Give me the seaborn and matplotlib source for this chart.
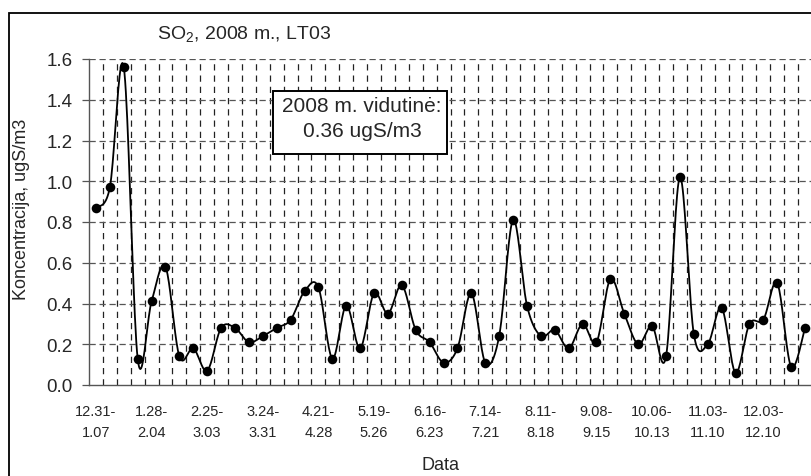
import numpy as np
import pandas as pd
import matplotlib
matplotlib.use("Agg")
import matplotlib.pyplot as plt
import seaborn as sns
from matplotlib.patches import Rectangle

# ---- data ----
tick_labels = ["12.31-\n1.07", "1.28-\n2.04", "2.25-\n3.03", "3.24-\n3.31", "4.21-\n4.28",
               "5.19-\n5.26", "6.16-\n6.23", "7.14-\n7.21", "8.11-\n8.18", "9.08-\n9.15",
               "10.06-\n10.13", "11.03-\n11.10", "12.03-\n12.10"]
so2 = [0.87, 0.97, 1.56, 0.13, 0.41, 0.58, 0.14, 0.18, 0.07, 0.28,
       0.28, 0.21, 0.24, 0.28, 0.32, 0.46, 0.48, 0.13, 0.39, 0.18,
       0.45, 0.35, 0.49, 0.27, 0.21, 0.11, 0.18, 0.45, 0.11, 0.24,
       0.81, 0.39, 0.24, 0.27, 0.18, 0.30, 0.21, 0.52, 0.35, 0.20,
       0.29, 0.14, 1.02, 0.25, 0.20, 0.38, 0.06, 0.30, 0.32, 0.50,
       0.09, 0.28]
title = "SO$_2$, 2008 m., LT03"
note = "2008 m. vidutinė:\n0.36 ugS/m3"

df = pd.DataFrame({"week": np.arange(len(so2)), "conc": so2})

sns.set_theme(style="white")
plt.rcParams["font.family"] = ["Liberation Sans", "DejaVu Sans"]
plt.rcParams["mathtext.fontset"] = "custom"
plt.rcParams["mathtext.rm"] = "Liberation Sans"

W, H = 811, 477
fig = plt.figure(figsize=(W / 100, H / 100), dpi=100)
fig.patch.set_facecolor("white")
ax = fig.add_axes([89 / W, (H - 386) / H, (812 - 89) / W, (386 - 60) / H])
ax.set_facecolor("white")


def smooth(xv, yv, n=20):
    # Bezier smoothing like a spreadsheet "smoothed line" (drawing only)
    xv = np.asarray(xv, float)
    yv = np.asarray(yv, float)
    px, py = [], []
    m = len(xv)
    for i in range(m - 1):
        i0, i3 = max(i - 1, 0), min(i + 2, m - 1)
        p0 = np.array([xv[i], yv[i]])
        p3 = np.array([xv[i + 1], yv[i + 1]])
        c1 = p0 + (np.array([xv[i + 1], yv[i + 1]]) - np.array([xv[i0], yv[i0]])) / 6
        c2 = p3 - (np.array([xv[i3], yv[i3]]) - np.array([xv[i], yv[i]])) / 6
        t = np.linspace(0, 1, n, endpoint=(i == m - 2))[:, None]
        pts = ((1 - t) ** 3) * p0 + 3 * ((1 - t) ** 2) * t * c1 + 3 * (1 - t) * t ** 2 * c2 + t ** 3 * p3
        px.extend(pts[:, 0])
        py.extend(pts[:, 1])
    return np.array(px), np.array(py)


sx, sy = smooth(df["week"], df["conc"])
ax.plot(sx, sy, color="black", lw=1.3, zorder=3)
sns.scatterplot(data=df, x="week", y="conc", ax=ax, color="black", s=48,
                edgecolor="black", linewidth=0, zorder=4, legend=False)

n = len(so2)
ax.set_xlim(-0.5, n - 0.5)
ax.set_ylim(0, 1.6)

# grid
for k in range(1, n):
    ax.axvline(k - 0.5, color="#222222", lw=0.9, dashes=(5, 4), zorder=1)
for v in np.arange(0.2, 1.61, 0.2):
    ax.axhline(v, color="#555555", lw=0.9, dashes=(5, 3), zorder=1)

yt = np.round(np.arange(0, 1.61, 0.2), 1)
ax.set_yticks(yt)
ax.set_yticklabels([f"{v:.1f}" for v in yt], fontsize=13.5)
ax.set_xticks(np.arange(0, n, 4))
ax.set_xticklabels(tick_labels, fontsize=10.5, linespacing=1.65)
ax.set_xticks(np.arange(-0.5, n, 1), minor=True)
ax.tick_params(axis="x", which="major", length=0, pad=13.5)
ax.tick_params(axis="x", which="minor", direction="inout", length=7, width=0.9, color="#555555")
ax.tick_params(axis="y", which="major", direction="out", length=5, width=0.9, color="#555555",
               pad=7, left=True)

for s in ["top", "right"]:
    ax.spines[s].set_visible(False)
for s in ["left", "bottom"]:
    ax.spines[s].set_color("#555555")
    ax.spines[s].set_linewidth(1.0)

ax.set_xlabel("")
ax.set_ylabel("")
fig.text(22 / W, 1 - 209 / H, "Koncentracija, ugS/m3", rotation=90, ha="center", va="center",
         fontsize=13)
fig.text(440 / W, 1 - 466 / H, "Data", ha="center", va="center", fontsize=13)
fig.text(157 / W, 1 - 35 / H, title, ha="left", va="center", fontsize=14)

# note box
fig.patches.append(Rectangle((273 / W, 1 - 155 / H), 174 / W, 63 / H, transform=fig.transFigure,
                             facecolor="white", edgecolor="black", lw=1.4, zorder=5))
fig.text(362 / W, 1 - 119 / H, note, ha="center", va="center", fontsize=15, linespacing=1.4,
         zorder=6)

# outer chart border
fig.patches.append(Rectangle((9 / W, -0.2), 2, 0.2 + (H - 14) / H, transform=fig.transFigure,
                             fill=False, edgecolor="black", lw=1.3, zorder=0))

fig.savefig("out.png", dpi=100)
